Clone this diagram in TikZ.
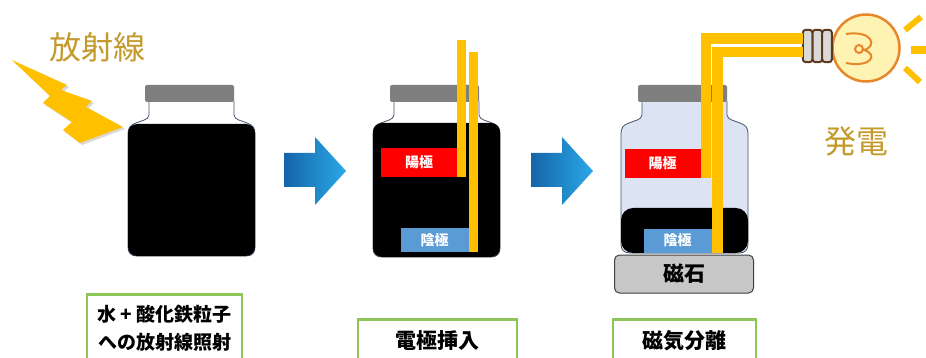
\documentclass[tikz,border=0pt]{standalone}
\usepackage{fontspec}
\setmainfont{Noto Sans CJK JP}
\usepackage{tikz}
\usetikzlibrary{calc,positioning}

\definecolor{capgray}{HTML}{7F7F7F}
\definecolor{jarline}{HTML}{44546A}
\definecolor{jarblue}{HTML}{DCE3F2}
\definecolor{rodyel}{HTML}{FFC000}
\definecolor{anred}{HTML}{FF0000}
\definecolor{cablue}{HTML}{5B9BD5}
\definecolor{boxgreen}{HTML}{8DC558}
\definecolor{gold}{HTML}{C49A2C}
\definecolor{arrdark}{HTML}{1565A8}
\definecolor{arrlight}{HTML}{2AA8E8}
\definecolor{bulbfill}{HTML}{FFF3B4}
\definecolor{bulbline}{HTML}{E8872A}
\definecolor{screw}{HTML}{5C3A1E}

\begin{document}
\begin{tikzpicture}[x=1pt,y=-1pt]
\tikzstyle{anode}=[fill=anred, text=white, font=\bfseries\fontsize{14}{14}\selectfont, minimum width=76pt, minimum height=29pt, inner sep=0pt]
\tikzstyle{cathode}=[fill=cablue, text=white, font=\bfseries\fontsize{14}{14}\selectfont, minimum width=68pt, minimum height=24pt, inner sep=0pt]
\tikzstyle{rod}=[draw=rodyel, line width=9pt]
\tikzstyle{wire}=[draw=rodyel, line width=10.5pt]
\tikzstyle{stepbox}=[draw=boxgreen, line width=2.5pt, fill=white, anchor=north, align=center, font=\bfseries\fontsize{21}{28}\selectfont]
\tikzstyle{goldtext}=[text=gold, font=\fontsize{32}{32}\selectfont]

\clip (0,0) rectangle (926,358);
\fill[white] (0,0) rectangle (926,358);

% bolt
\fill[black!15] (14,62) -- (69,87) -- (63,92) -- (94,103) -- (88,109) -- (125,129)
  -- (82,145) -- (65,132) -- (74,124) -- (45,105) -- (52,98) -- cycle;
\fill[rodyel] (12,60) -- (67,85) -- (61,90) -- (92,101) -- (86,107) -- (123,127)
  -- (80,143) -- (63,130) -- (72,122) -- (43,103) -- (50,96) -- cycle;
\node[goldtext] (rays) at (97,47) {放射線};

% jars: left edge / body colour / bottom
\foreach \x/\c/\b in {128/white/256, 373/white/257, 621/jarblue/253}{
  \draw[jarline, fill=\c, line width=0.8pt] (\x+21,101) -- (\x+21,115)
    .. controls (\x+21,120) and (\x+12,121) .. (\x+8,123)
    .. controls (\x+2,125) and (\x,128) .. (\x,134) -- (\x,\b-9)
    .. controls (\x,\b-3) and (\x+3,\b) .. (\x+9,\b) -- (\x+118,\b)
    .. controls (\x+124,\b) and (\x+127,\b-3) .. (\x+127,\b-9) -- (\x+127,134)
    .. controls (\x+127,128) and (\x+125,125) .. (\x+119,123)
    .. controls (\x+115,121) and (\x+106,120) .. (\x+106,115) -- (\x+106,101);
  \fill[capgray, rounded corners=2pt] (\x+17,85) rectangle (\x+106,102);
}
\fill[black, rounded corners=9pt] (128,124) rectangle (255,256);
\fill[black, rounded corners=9pt] (373,123) rectangle (500,257);
\fill[black, rounded corners=12pt] (621,208) rectangle (748,253);

% arrows
\foreach \x in {284, 531}{
  \shade[left color=arrdark, right color=arrlight] (\x,153) -- (\x+31,153) -- (\x+31,137)
    -- (\x+62,171) -- (\x+31,205) -- (\x+31,187) -- (\x,187) -- cycle;
}

% electrodes, second jar
\node[anode] (an2) at (419,162.5) {陽極};
\node[cathode] (ca2) at (434.5,240) {陰極};
\coordinate (top2a) at (461.5,40);
\coordinate (top2b) at (473.5,52);
\draw[rod] (top2a) -- (top2a |- an2.south);
\draw[rod] (top2b) -- (top2b |- ca2.south);

% lamp
\node[circle, fill=bulbfill, draw=bulbline, line width=2.5pt, minimum size=67pt] (bulb) at (866,48) {};
\draw[bulbline, line width=2pt] (846,34) .. controls (872,30) and (878,46) .. (864,50)
  .. controls (878,54) and (872,68) .. (846,63);
\draw[bulbline, line width=2pt] (859,49) circle (4);
\node[minimum width=29pt, minimum height=32pt, inner sep=0pt] (base) at (817.5,46) {};
\foreach \i in {0,1,2}{
  \draw[screw, fill=black!15, line width=2pt, rounded corners=3pt]
    ($(base.north west)+(\i*9.7,0)$) rectangle ($(base.south west)+(\i*9.7+9.7,0)$);
}
\draw[rodyel, line width=6pt] (905,30) -- (921,17);
\draw[rodyel, line width=8pt] (911,50) -- (926,50);
\draw[rodyel, line width=6pt] (905,68) -- (920,82);
\node[goldtext] (power) at (856,141) {発電};

% electrodes, third jar
\node[anode] (an3) at (662.5,163.5) {陽極};
\node[cathode] (ca3) at (677.5,240.5) {陰極};
\draw[wire] ([xshift=5.5pt]an3.south east) |- ([yshift=7.5pt]base.west);
\draw[wire] ([xshift=6pt]ca3.south east) |- ([yshift=-6pt]base.west);
\node[draw=black!75, fill=black!22, line width=1pt, rounded corners=5pt, minimum width=139pt,
  minimum height=38pt, font=\bfseries\fontsize{21}{21}\selectfont] (magnet) at (684,274) {磁石};

% captions
\node[stepbox, minimum width=155pt, inner xsep=4pt, inner ysep=11pt, font=\bfseries\fontsize{19}{28}\selectfont] (cap1) at (164.5,293) {水 + 酸化鉄粒子\\への放射線照射};
\node[stepbox, minimum width=159pt, minimum height=43pt] (cap2) at (437.5,318) {電極挿入};
\node[stepbox, minimum width=143pt, minimum height=43pt] (cap3) at (684.5,318) {磁気分離};
\end{tikzpicture}
\end{document}
